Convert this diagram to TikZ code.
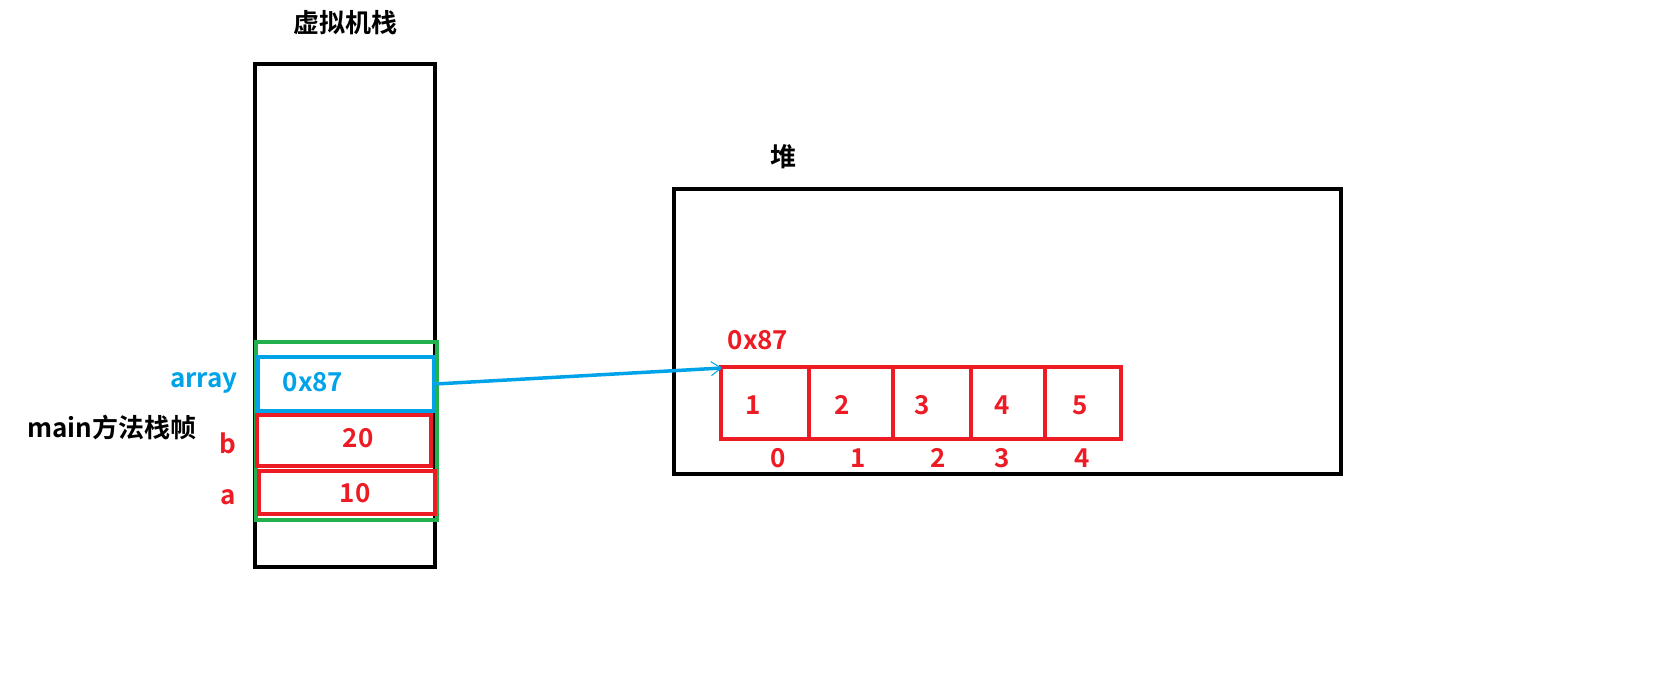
\documentclass[tikz,border=0pt]{standalone}
\usepackage{fontspec}
\setmainfont{Noto Sans CJK SC}[BoldFont={* Bold}]
\usetikzlibrary{arrows.meta}
\definecolor{pred}{HTML}{ED1C24}
\definecolor{pblue}{HTML}{00A2E8}
\definecolor{pgreen}{HTML}{22B14C}
\begin{document}
\begin{tikzpicture}[x=1pt,y=-1pt,
  lbl/.style={font=\fontsize{26}{28}\selectfont\bfseries, inner sep=0pt},
  blk/.style={draw=black, line width=4.5pt},
  rbox/.style={draw=pred, line width=4.5pt},
  rtxt/.style={lbl, text=pred},
  btxt/.style={lbl, text=pblue}]
\useasboundingbox (0,0) rectangle (1665,683);
% stack
\node[lbl] (stt) at (345,23) {虚拟机栈};
\draw[blk] (255,64) rectangle (435,567);
\draw[draw=pgreen, line width=4pt] (256,342) rectangle (437,520);
\draw[draw=pblue, line width=4.5pt] (258,357) rectangle (434,411);
\coordinate (arrS) at (435,384);
\draw[rbox] (257,415) rectangle (431,466);
\draw[rbox] (259,471) rectangle (435,514);
\node[btxt] (arrv) at (313,382) {0x87};
\node[rtxt] (bv) at (358,438) {20};
\node[rtxt] (av) at (355,493) {10};
\node[btxt] (arrn) at (204,383) {array};
\node[rtxt] (bn) at (228,443) {b};
\node[rtxt] (an) at (228,497) {a};
\node[lbl] (frm) at (112,427) {main方法栈帧};
% heap
\node[lbl] (hp) at (783,157) {堆};
\draw[blk] (674,189) rectangle (1341,474);
\node[rtxt] (addr) at (758,340) {0x87};
\draw[rbox] (721,367) rectangle (1121,439);
\coordinate (arrE) at (722,368);
\foreach \x in {809,893,971,1045}{\draw[draw=pred, line width=4.5pt] (\x,367) -- (\x,441);}
\foreach \x/\v in {753/1,842/2,922/3,1002/4,1080/5}{\node[rtxt] at (\x,405) {\v};}
\foreach \x/\v in {778/0,858/1,938/2,1002/3,1082/4}{\node[rtxt] at (\x,458) {\v};}
\draw[draw=pblue, line width=3.5pt, -{Straight Barb[length=10pt,width=14pt,line width=1pt]}] (arrS) -- (arrE);
\end{tikzpicture}
\end{document}
